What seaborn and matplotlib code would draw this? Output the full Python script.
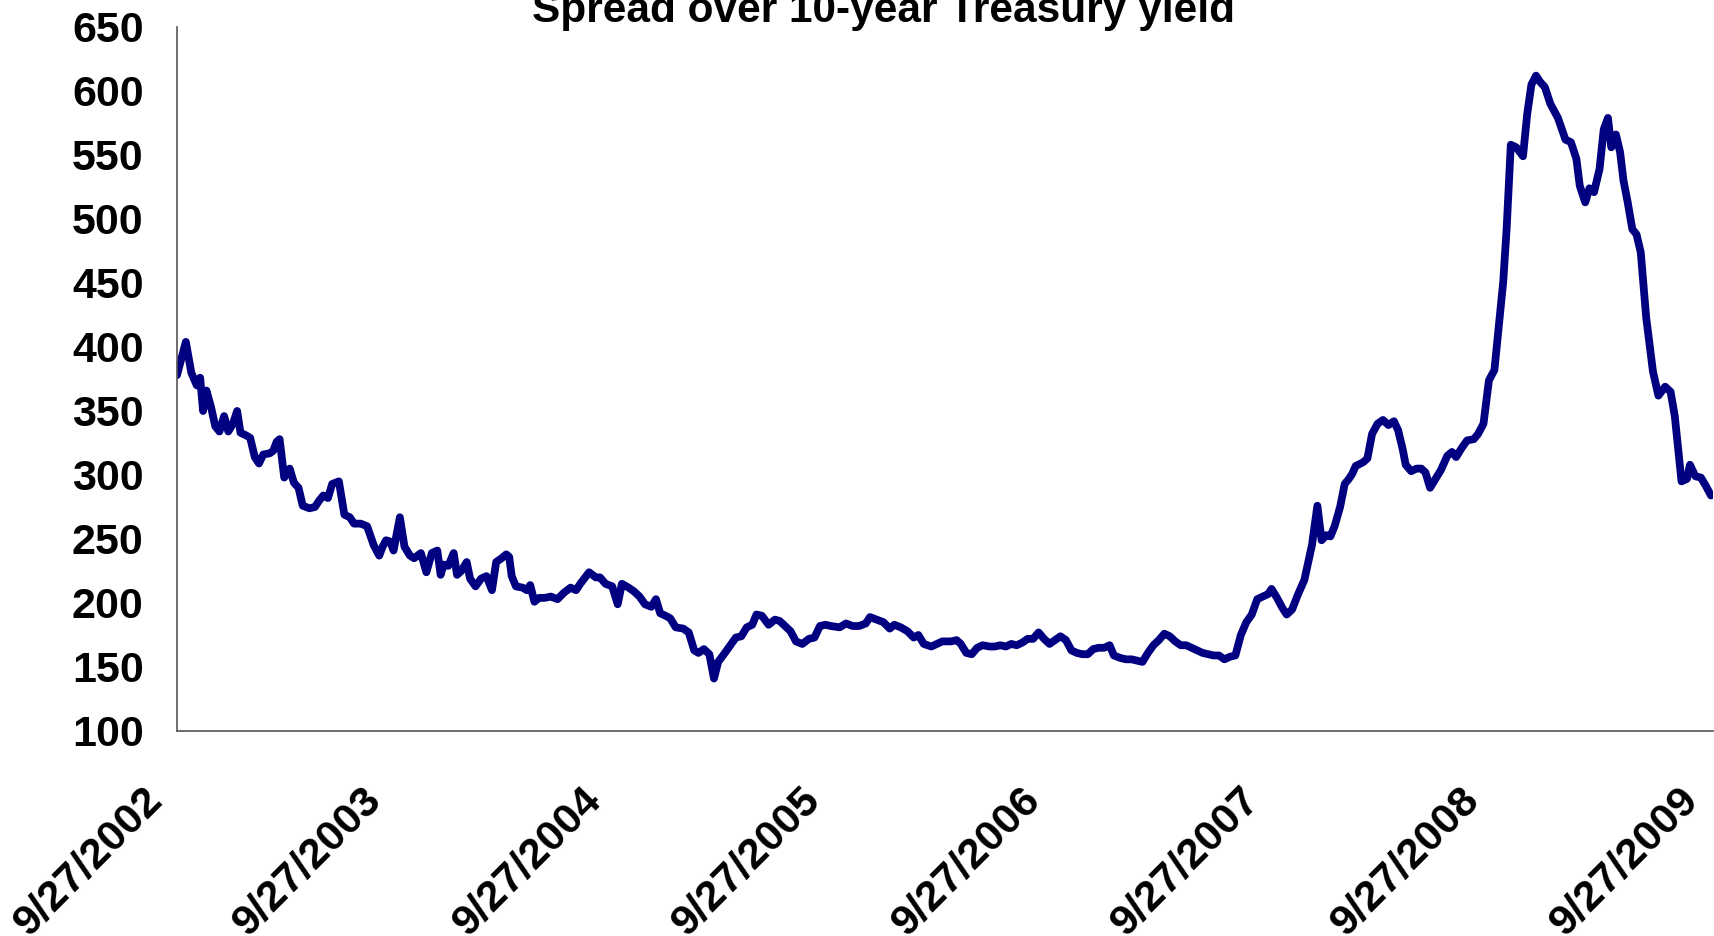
import numpy as np
import pandas as pd
import matplotlib
matplotlib.use("Agg")
import matplotlib.pyplot as plt
import matplotlib.dates as mdates
from matplotlib.transforms import ScaledTranslation
import seaborn as sns

# Weeks elapsed since 9/27/2002 and spread (basis points)
weeks = [0, 2.1, 3.4, 4.7, 5.5, 6.2, 7.0, 8.1, 9.1, 10.1, 11.2, 12.2, 13.3, 14.3, 15.1,
         16.4, 17.4, 18.5, 19.5, 20.5, 22.1, 22.9, 23.7, 24.4, 25.5, 26.8, 27.8, 28.9,
         29.9, 31.5, 32.8, 33.8, 34.8, 35.9, 36.9, 38.5, 39.8, 41.1, 42.1, 43.7, 45.2,
         46.8, 48.1, 48.9, 49.7, 50.7, 51.5, 53.0, 54.1, 55.4, 56.4, 58.0, 59.3, 60.6,
         61.9, 62.7, 63.4, 64.5, 65.8, 66.6, 67.6, 68.9, 69.7, 71.0, 72.3, 73.6, 74.9,
         75.9, 77.2, 78.3, 79.0, 79.6, 80.6, 82.2, 83.2, 84.0, 85.0, 86.1, 87.4, 88.9,
         90.5, 92.0, 93.6, 94.9, 95.9, 98.0, 99.6, 100.6, 101.9, 103.5, 104.8, 105.8,
         107.4, 108.7, 110.0, 111.3, 112.8, 113.9, 114.9, 116.2, 117.3, 118.6, 120.4,
         121.7, 123.0, 124.0, 125.3, 126.6, 127.7, 128.7, 130.3, 131.6, 132.9, 134.2,
         135.5, 136.8, 137.8, 139.1, 140.7, 142.2, 143.3, 144.6, 145.9, 147.2, 148.7,
         150.3, 151.6, 152.9, 154.2, 155.5, 157.6, 159.1, 160.7, 162.2, 163.8, 164.8,
         166.4, 168.0, 169.5, 170.6, 172.1, 173.7, 175.2, 176.3, 177.6, 179.4, 180.7,
         182.0, 184.1, 185.4, 186.4, 187.7, 189.0, 190.3, 191.6, 193.2, 194.5, 195.8,
         197.1, 198.4, 199.7, 201.0, 202.3, 203.6, 204.9, 206.2, 207.5, 208.8, 210.1,
         211.4, 212.7, 214.0, 215.3, 216.6, 217.9, 219.2, 220.5, 221.8, 222.8, 224.4,
         225.7, 227.0, 228.3, 229.6, 230.9, 232.2, 233.5, 234.8, 236.1, 237.4, 238.7,
         240.0, 241.3, 242.6, 243.9, 245.2, 246.5, 247.8, 249.1, 250.4, 251.7, 253.0,
         254.3, 255.6, 256.9, 258.2, 259.5, 260.3, 261.6, 262.9, 263.9, 265.2, 266.5,
         267.3, 268.1, 269.1, 269.9, 271.2, 272.2, 273.3, 274.3, 275.3, 276.6, 277.7,
         278.7, 279.5, 280.3, 282.1, 283.1, 284.2, 285.5, 286.8, 288.1, 289.4, 290.4,
         291.5, 292.2, 293.5, 294.8, 295.9, 296.9, 298.0, 299.3, 300.6, 302.1, 303.2,
         304.2, 305.5, 306.8, 308.4, 309.4, 310.7, 312.0, 313.3, 314.3, 315.4, 316.2,
         317.2, 318.5, 320.1, 321.1, 322.1, 323.2, 324.2, 325.3, 326.6, 328.4, 330.2,
         331.5, 332.8, 333.6, 334.9, 335.9, 337.0, 338.3, 339.3, 340.3, 341.1, 342.2,
         343.2, 344.0, 345.0, 346.1, 347.1, 348.1, 349.4, 351.0, 352.3, 353.9, 355.2,
         356.2, 357.8, 359.1, 359.8, 361.1, 362.4, 363.5, 364.8]

spread = [378, 404, 380, 370, 376, 350, 366, 353, 338, 334, 346, 334, 340, 350, 333,
          331, 329, 314, 309, 316, 317, 319, 326, 328, 298, 305, 294, 290,
          276, 274, 275, 280, 284, 282, 293, 295, 269, 267, 262, 262, 260,
          245, 237, 244, 249, 248, 241, 267, 244, 237, 235, 239, 224, 239,
          241, 222, 230, 229, 239, 222, 225, 232, 219, 213, 219, 221, 210,
          232, 235, 238, 236, 221, 213, 212, 210, 214, 201, 204, 204, 205,
          203, 208, 212, 210, 215, 224, 220, 220, 215, 213, 199, 215,
          212, 209, 205, 199, 197, 203, 192, 190, 188, 181, 180,
          177, 163, 161, 164, 160, 141, 154, 161, 167, 173, 174,
          181, 183, 191, 190, 183, 187, 186, 182, 178, 170, 168,
          172, 173, 182, 183, 182, 181, 184, 182, 182, 184, 189,
          187, 185, 180, 183, 181, 178, 173, 175, 168, 166, 168,
          170, 170, 171, 168, 161, 160, 165, 167, 166, 166, 167,
          166, 168, 167, 169, 172, 172, 177, 172, 168, 171, 174,
          171, 163, 161, 160, 160, 164, 165, 165, 167, 159, 157,
          156, 156, 155, 154, 161, 167, 171, 176, 174, 170, 167,
          167, 165, 163, 161, 160, 159, 159, 156, 158, 159, 175,
          185, 191, 203, 205, 207, 211, 204, 196, 191, 195, 206,
          212, 218, 233, 245, 276, 249, 253, 252, 260, 275, 293,
          297, 301, 307, 310, 313, 332, 340, 343, 339, 342, 335,
          320, 308, 303, 305, 305, 302, 290, 297, 304, 315, 318,
          314, 321, 327, 328, 332, 340, 374, 382, 415, 451, 492,
          558, 556, 549, 582, 605, 612, 607, 603, 590, 579, 562,
          560, 547, 526, 513, 524, 521, 539, 570, 579, 556, 566,
          552, 530, 513, 492, 488, 474, 423, 381, 362, 369, 365,
          346, 295, 297, 308, 299, 298, 292, 284]

tick_dates = ["2002-09-27", "2003-09-27", "2004-09-27", "2005-09-27",
              "2006-09-27", "2007-09-27", "2008-09-27", "2009-09-27"]
tick_labels = ["9/27/2002", "9/27/2003", "9/27/2004", "9/27/2005",
               "9/27/2006", "9/27/2007", "9/27/2008", "9/27/2009"]
y_ticks = [100, 150, 200, 250, 300, 350, 400, 450, 500, 550, 600, 650]
title = "Spread over 10-year Treasury yield"

start = pd.Timestamp("2002-09-27")
df = pd.DataFrame({
    "date": start + pd.to_timedelta(np.array(weeks) * 7, unit="D"),
    "spread": spread,
})

sns.set_style("white")
plt.rcParams["font.family"] = ["Liberation Sans", "DejaVu Sans"]
plt.rcParams["font.weight"] = "bold"
plt.rcParams["text.color"] = "black"
plt.rcParams["xtick.labelcolor"] = "black"
plt.rcParams["ytick.labelcolor"] = "black"

fig = plt.figure(figsize=(17.15, 9.36), dpi=100)
ax = fig.add_axes([177 / 1715, 1 - 731 / 936, (1713 - 177) / 1715, (731 - 27) / 936])

sns.lineplot(data=df, x="date", y="spread", ax=ax, color="#000080", linewidth=5.6)

ax.set_xlim(pd.Timestamp(tick_dates[0]), pd.Timestamp(tick_dates[-1]))
ax.set_ylim(100, 650)
ax.set_xticks([mdates.date2num(pd.Timestamp(d)) for d in tick_dates])
ax.set_xticklabels(tick_labels, rotation=45, ha="right", va="baseline",
                   rotation_mode="anchor", fontsize=31, fontweight="bold", color="black")
ax.set_yticks(y_ticks)
ax.set_yticklabels([str(v) for v in y_ticks], fontsize=31, fontweight="bold", color="black")
ax.set_xlabel("")
ax.set_ylabel("")

for s in ["top", "right"]:
    ax.spines[s].set_visible(False)
for s in ["left", "bottom"]:
    ax.spines[s].set_color("#555555")
    ax.spines[s].set_linewidth(1.2)
ax.tick_params(axis="both", direction="out", length=10, width=1.0, color="#666666")
ax.tick_params(axis="y", pad=14)
ax.tick_params(axis="x", pad=41)
ax.grid(False)

offset = ScaledTranslation(-13 / 100, 0, fig.dpi_scale_trans)
for lab in ax.xaxis.get_majorticklabels():
    lab.set_transform(lab.get_transform() + offset)

fig.text(883 / 1715, 1 - 22 / 936, title, ha="center", va="baseline",
         fontsize=30.5, fontweight="bold", color="black")

fig.savefig("out.png", dpi=100)
